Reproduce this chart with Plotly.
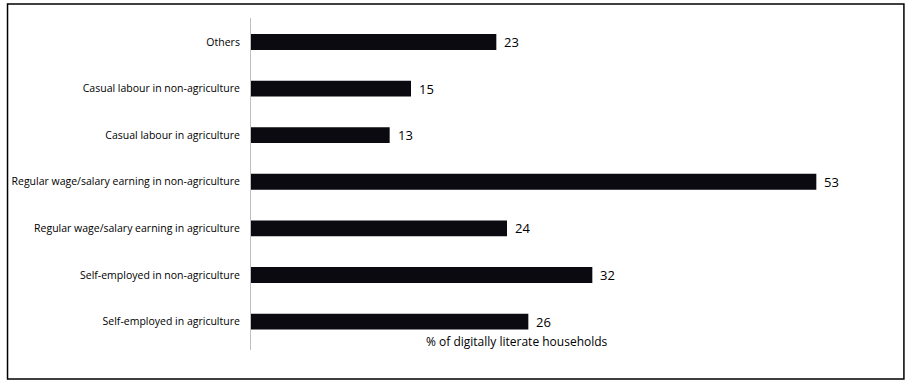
import plotly.graph_objects as go

categories = [
    "Self-employed in agriculture",
    "Self-employed in non-agriculture",
    "Regular wage/salary earning in agriculture",
    "Regular wage/salary earning in non-agriculture",
    "Casual labour in agriculture",
    "Casual labour in non-agriculture",
    "Others",
]
values = [26, 32, 24, 53, 13, 15, 23]
x_title = "% of digitally literate households"

W, H = 906, 381
L, R, T, B = 247, 15, 18, 31
pw, ph = W - L - R, H - T - B

def px(x):
    return (x - L) / pw

def py(y):
    return (H - B - y) / ph

fig = go.Figure(go.Bar(
    y=categories, x=values, orientation="h",
    marker=dict(color="#0a0a10", line=dict(width=0)),
    width=0.34,
))

ann = [dict(x=v, y=c, text=str(v), xref="x", yref="y", xanchor="left",
            yanchor="middle", xshift=6, showarrow=False,
            font=dict(family="Open Sans, sans-serif", size=13, color="#000000"))
       for c, v in zip(categories, values)]
ann.append(dict(text=x_title, xref="paper", yref="paper",
                x=px(515), y=py(341), xanchor="center", yanchor="middle",
                showarrow=False,
                font=dict(family="Open Sans, sans-serif", size=12, color="#000000")))

fig.update_layout(
    width=W, height=H,
    margin=dict(l=L, r=R, t=T, b=B),
    paper_bgcolor="white", plot_bgcolor="white",
    showlegend=False,
    font=dict(family="Open Sans, sans-serif", color="#000000"),
    xaxis=dict(range=[0, 60], showgrid=False, zeroline=False, showline=False,
               showticklabels=False, ticks=""),
    yaxis=dict(showgrid=False, zeroline=False, showline=True, linecolor="#bfbfbf",
               linewidth=1, ticks="", ticklabelstandoff=8,
               tickfont=dict(family="Open Sans, sans-serif", size=10.5, color="#000000"),
               range=[-0.61, 6.515]),
    annotations=ann,
    shapes=[dict(type="rect", xref="paper", yref="paper",
                 x0=px(2), x1=px(904), y0=py(379), y1=py(4),
                 line=dict(color="#000000", width=1.5), fillcolor="rgba(0,0,0,0)")],
)

fig.write_html("out.html")
